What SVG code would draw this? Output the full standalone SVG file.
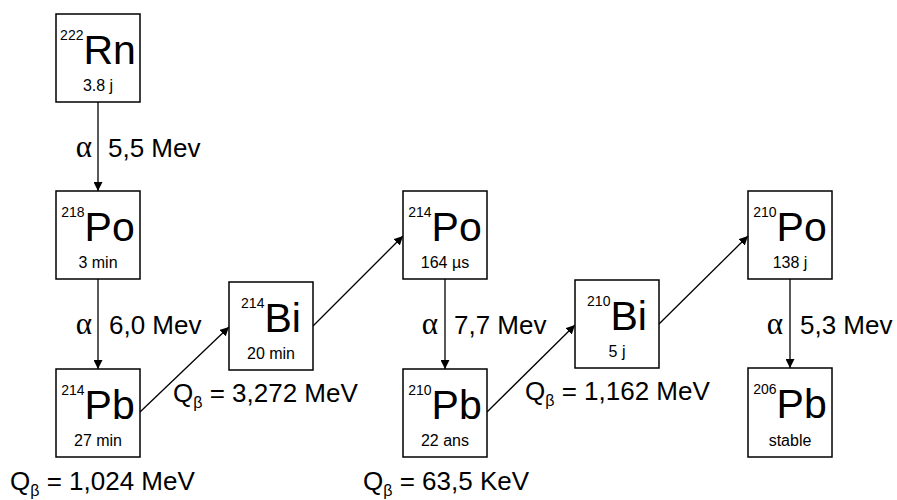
<svg xmlns="http://www.w3.org/2000/svg" width="897" height="500" viewBox="0 0 897 500">
<defs>
<marker id="ah" viewBox="0 0 10 10" refX="10" refY="5" markerWidth="9" markerHeight="9" markerUnits="userSpaceOnUse" orient="auto">
<path d="M0,0 L10,5 L0,10 z" fill="#000"/>
</marker>
<style>
.box{fill:#fff;stroke:#000;stroke-width:1.5}
.sym{font-family:"Liberation Sans",Arial,sans-serif;fill:#000;text-anchor:middle}
.sup{font-size:14px}
.big{font-size:41px}
.hl{font-family:"Liberation Sans",Arial,sans-serif;font-size:16px;fill:#000;text-anchor:middle}
.lbl{font-family:"Liberation Sans",Arial,sans-serif;font-size:26px;fill:#000}
.sub{font-size:16px}
.alpha{font-family:"Liberation Serif","Times New Roman",serif;font-size:31px;fill:#000;text-anchor:end}
.arr{stroke:#000;stroke-width:1.3;fill:none;marker-end:url(#ah)}
</style>
</defs>
<rect width="897" height="500" fill="#fff"/>
<g id="connectors">
<line class="arr" x1="98" y1="102" x2="98" y2="191"/>
<line class="arr" x1="98" y1="279" x2="98" y2="369"/>
<line class="arr" x1="445" y1="279" x2="445" y2="369"/>
<line class="arr" x1="790" y1="279" x2="790" y2="368"/>
<line class="arr" x1="140" y1="412" x2="229" y2="327"/>
<line class="arr" x1="313" y1="326" x2="403" y2="236"/>
<line class="arr" x1="487" y1="412" x2="575" y2="325"/>
<line class="arr" x1="659" y1="324" x2="748" y2="236"/>
<text class="alpha" x="92" y="157">α</text>
<text class="lbl" x="108" y="157">5,5 Mev</text>
<text class="alpha" x="92" y="334">α</text>
<text class="lbl" x="109" y="334">6,0 Mev</text>
<text class="alpha" x="438" y="334">α</text>
<text class="lbl" x="454" y="334">7,7 Mev</text>
<text class="alpha" x="783" y="334">α</text>
<text class="lbl" x="800" y="334">5,3 Mev</text>
<text class="lbl" x="10" y="490">Q<tspan class="sub" dy="6">β</tspan><tspan dy="-6"> = 1,024 MeV</tspan></text>
<text class="lbl" x="173" y="402">Q<tspan class="sub" dy="6">β</tspan><tspan dy="-6"> = 3,272 MeV</tspan></text>
<text class="lbl" x="363" y="490">Q<tspan class="sub" dy="6">β</tspan><tspan dy="-6"> = 63,5 KeV</tspan></text>
<text class="lbl" x="525" y="400">Q<tspan class="sub" dy="6">β</tspan><tspan dy="-6"> = 1,162 MeV</tspan></text>
</g>
<g id="Rn222">
<rect class="box" x="56" y="14" width="84" height="88"/>
<text class="sym" x="98" y="64"><tspan class="sup" dy="-24">222</tspan><tspan class="big" dy="24">Rn</tspan></text>
<text class="hl" x="98" y="91">3.8 j</text>
</g>
<g id="Po218">
<rect class="box" x="56" y="191" width="84" height="88"/>
<text class="sym" x="98" y="241"><tspan class="sup" dy="-24">218</tspan><tspan class="big" dy="24">Po</tspan></text>
<text class="hl" x="98" y="268">3 min</text>
</g>
<g id="Pb214">
<rect class="box" x="56" y="369" width="84" height="88"/>
<text class="sym" x="98" y="419"><tspan class="sup" dy="-24">214</tspan><tspan class="big" dy="24">Pb</tspan></text>
<text class="hl" x="98" y="446">27 min</text>
</g>
<g id="Bi214">
<rect class="box" x="229" y="282" width="84" height="88"/>
<text class="sym" x="271" y="332"><tspan class="sup" dy="-24">214</tspan><tspan class="big" dy="24">Bi</tspan></text>
<text class="hl" x="271" y="359">20 min</text>
</g>
<g id="Po214">
<rect class="box" x="403" y="191" width="84" height="88"/>
<text class="sym" x="445" y="241"><tspan class="sup" dy="-24">214</tspan><tspan class="big" dy="24">Po</tspan></text>
<text class="hl" x="445" y="268">164 µs</text>
</g>
<g id="Pb210">
<rect class="box" x="403" y="369" width="84" height="88"/>
<text class="sym" x="445" y="419"><tspan class="sup" dy="-24">210</tspan><tspan class="big" dy="24">Pb</tspan></text>
<text class="hl" x="445" y="446">22 ans</text>
</g>
<g id="Bi210">
<rect class="box" x="575" y="280" width="84" height="88"/>
<text class="sym" x="617" y="330"><tspan class="sup" dy="-24">210</tspan><tspan class="big" dy="24">Bi</tspan></text>
<text class="hl" x="617" y="357">5 j</text>
</g>
<g id="Po210">
<rect class="box" x="748" y="191" width="84" height="88"/>
<text class="sym" x="790" y="241"><tspan class="sup" dy="-24">210</tspan><tspan class="big" dy="24">Po</tspan></text>
<text class="hl" x="790" y="268">138 j</text>
</g>
<g id="Pb206">
<rect class="box" x="748" y="368" width="84" height="89"/>
<text class="sym" x="790" y="418"><tspan class="sup" dy="-24">206</tspan><tspan class="big" dy="24">Pb</tspan></text>
<text class="hl" x="790" y="446">stable</text>
</g>
</svg>
